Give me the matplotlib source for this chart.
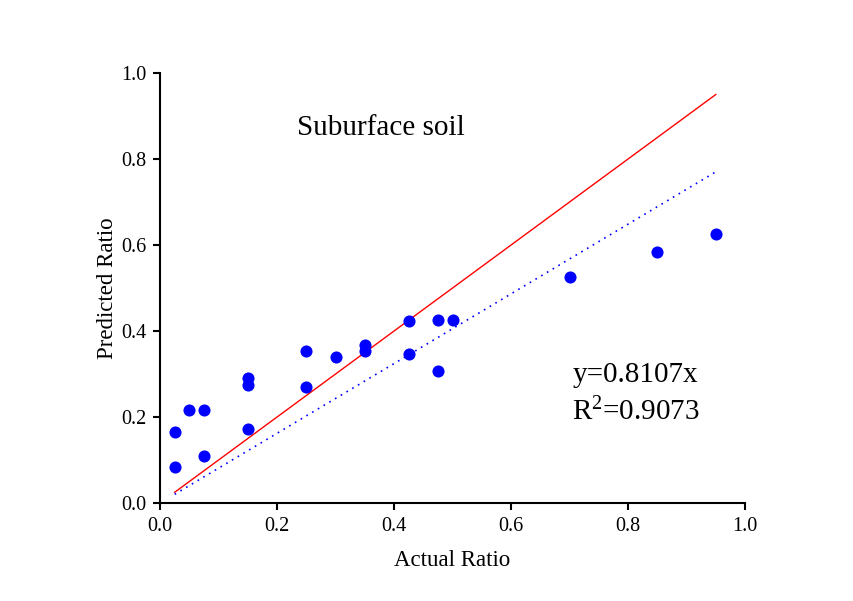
import numpy as np
import matplotlib.pyplot as plt

plt.rcParams['font.family'] = ['Liberation Serif', 'DejaVu Serif']
plt.rcParams['mathtext.fontset'] = 'custom'
plt.rcParams['mathtext.rm'] = 'Liberation Serif'
plt.rcParams['mathtext.it'] = 'Liberation Serif:italic'

actual_ratio = [0.025, 0.025, 0.05, 0.075, 0.075, 0.15, 0.15, 0.15, 0.25, 0.25,
                0.30, 0.35, 0.35, 0.425, 0.425, 0.475, 0.475, 0.50, 0.70, 0.85, 0.95]
predicted_ratio = [0.165, 0.084, 0.216, 0.216, 0.110, 0.290, 0.275, 0.173, 0.354, 0.270,
                   0.340, 0.368, 0.354, 0.423, 0.347, 0.426, 0.307, 0.426, 0.526, 0.584, 0.626]
line_range = [0.025, 0.95]
slope = 0.8107
r_squared = 0.9073

fig = plt.figure(figsize=(8.54, 6.01), dpi=100)
ax = fig.add_axes([0.1874, 0.163, 0.685, 0.7155])

xs = np.array(line_range)
ax.plot(xs, xs, color='red', lw=1.0)
ax.plot(xs, slope * xs, color='blue', lw=1.2, linestyle=(0, (1, 3)))
ax.scatter(actual_ratio, predicted_ratio, s=76, color='blue', zorder=3, linewidths=0)

ax.set_xlim(0, 1.0)
ax.set_ylim(0, 1.0)
ticks = np.arange(0, 1.01, 0.2)
ax.set_xticks(ticks)
ax.set_yticks(ticks)
ax.set_xticklabels(['{:.1f}'.format(v) for v in ticks])
ax.set_yticklabels(['{:.1f}'.format(v) for v in ticks])
ax.spines['top'].set_visible(False)
ax.spines['right'].set_visible(False)
ax.spines['left'].set_linewidth(1.5)
ax.spines['bottom'].set_linewidth(1.5)
ax.tick_params(direction='out', length=5, width=1.5, labelsize=14.5, pad=5)

ax.set_xlabel('Actual Ratio', fontsize=16.5, labelpad=10)
ax.set_ylabel('Predicted Ratio', fontsize=16.5, labelpad=2)

ax.text(0.234, 0.872, 'Suburface soil', fontsize=21, va='center')
ax.text(0.705, 0.298, 'y={}x'.format(slope), fontsize=21, va='center')
ax.text(0.705, 0.212, r'R$^{\mathrm{2}}$' + '={}'.format(r_squared), fontsize=21, va='center')

fig.savefig('out.png', dpi=100)
